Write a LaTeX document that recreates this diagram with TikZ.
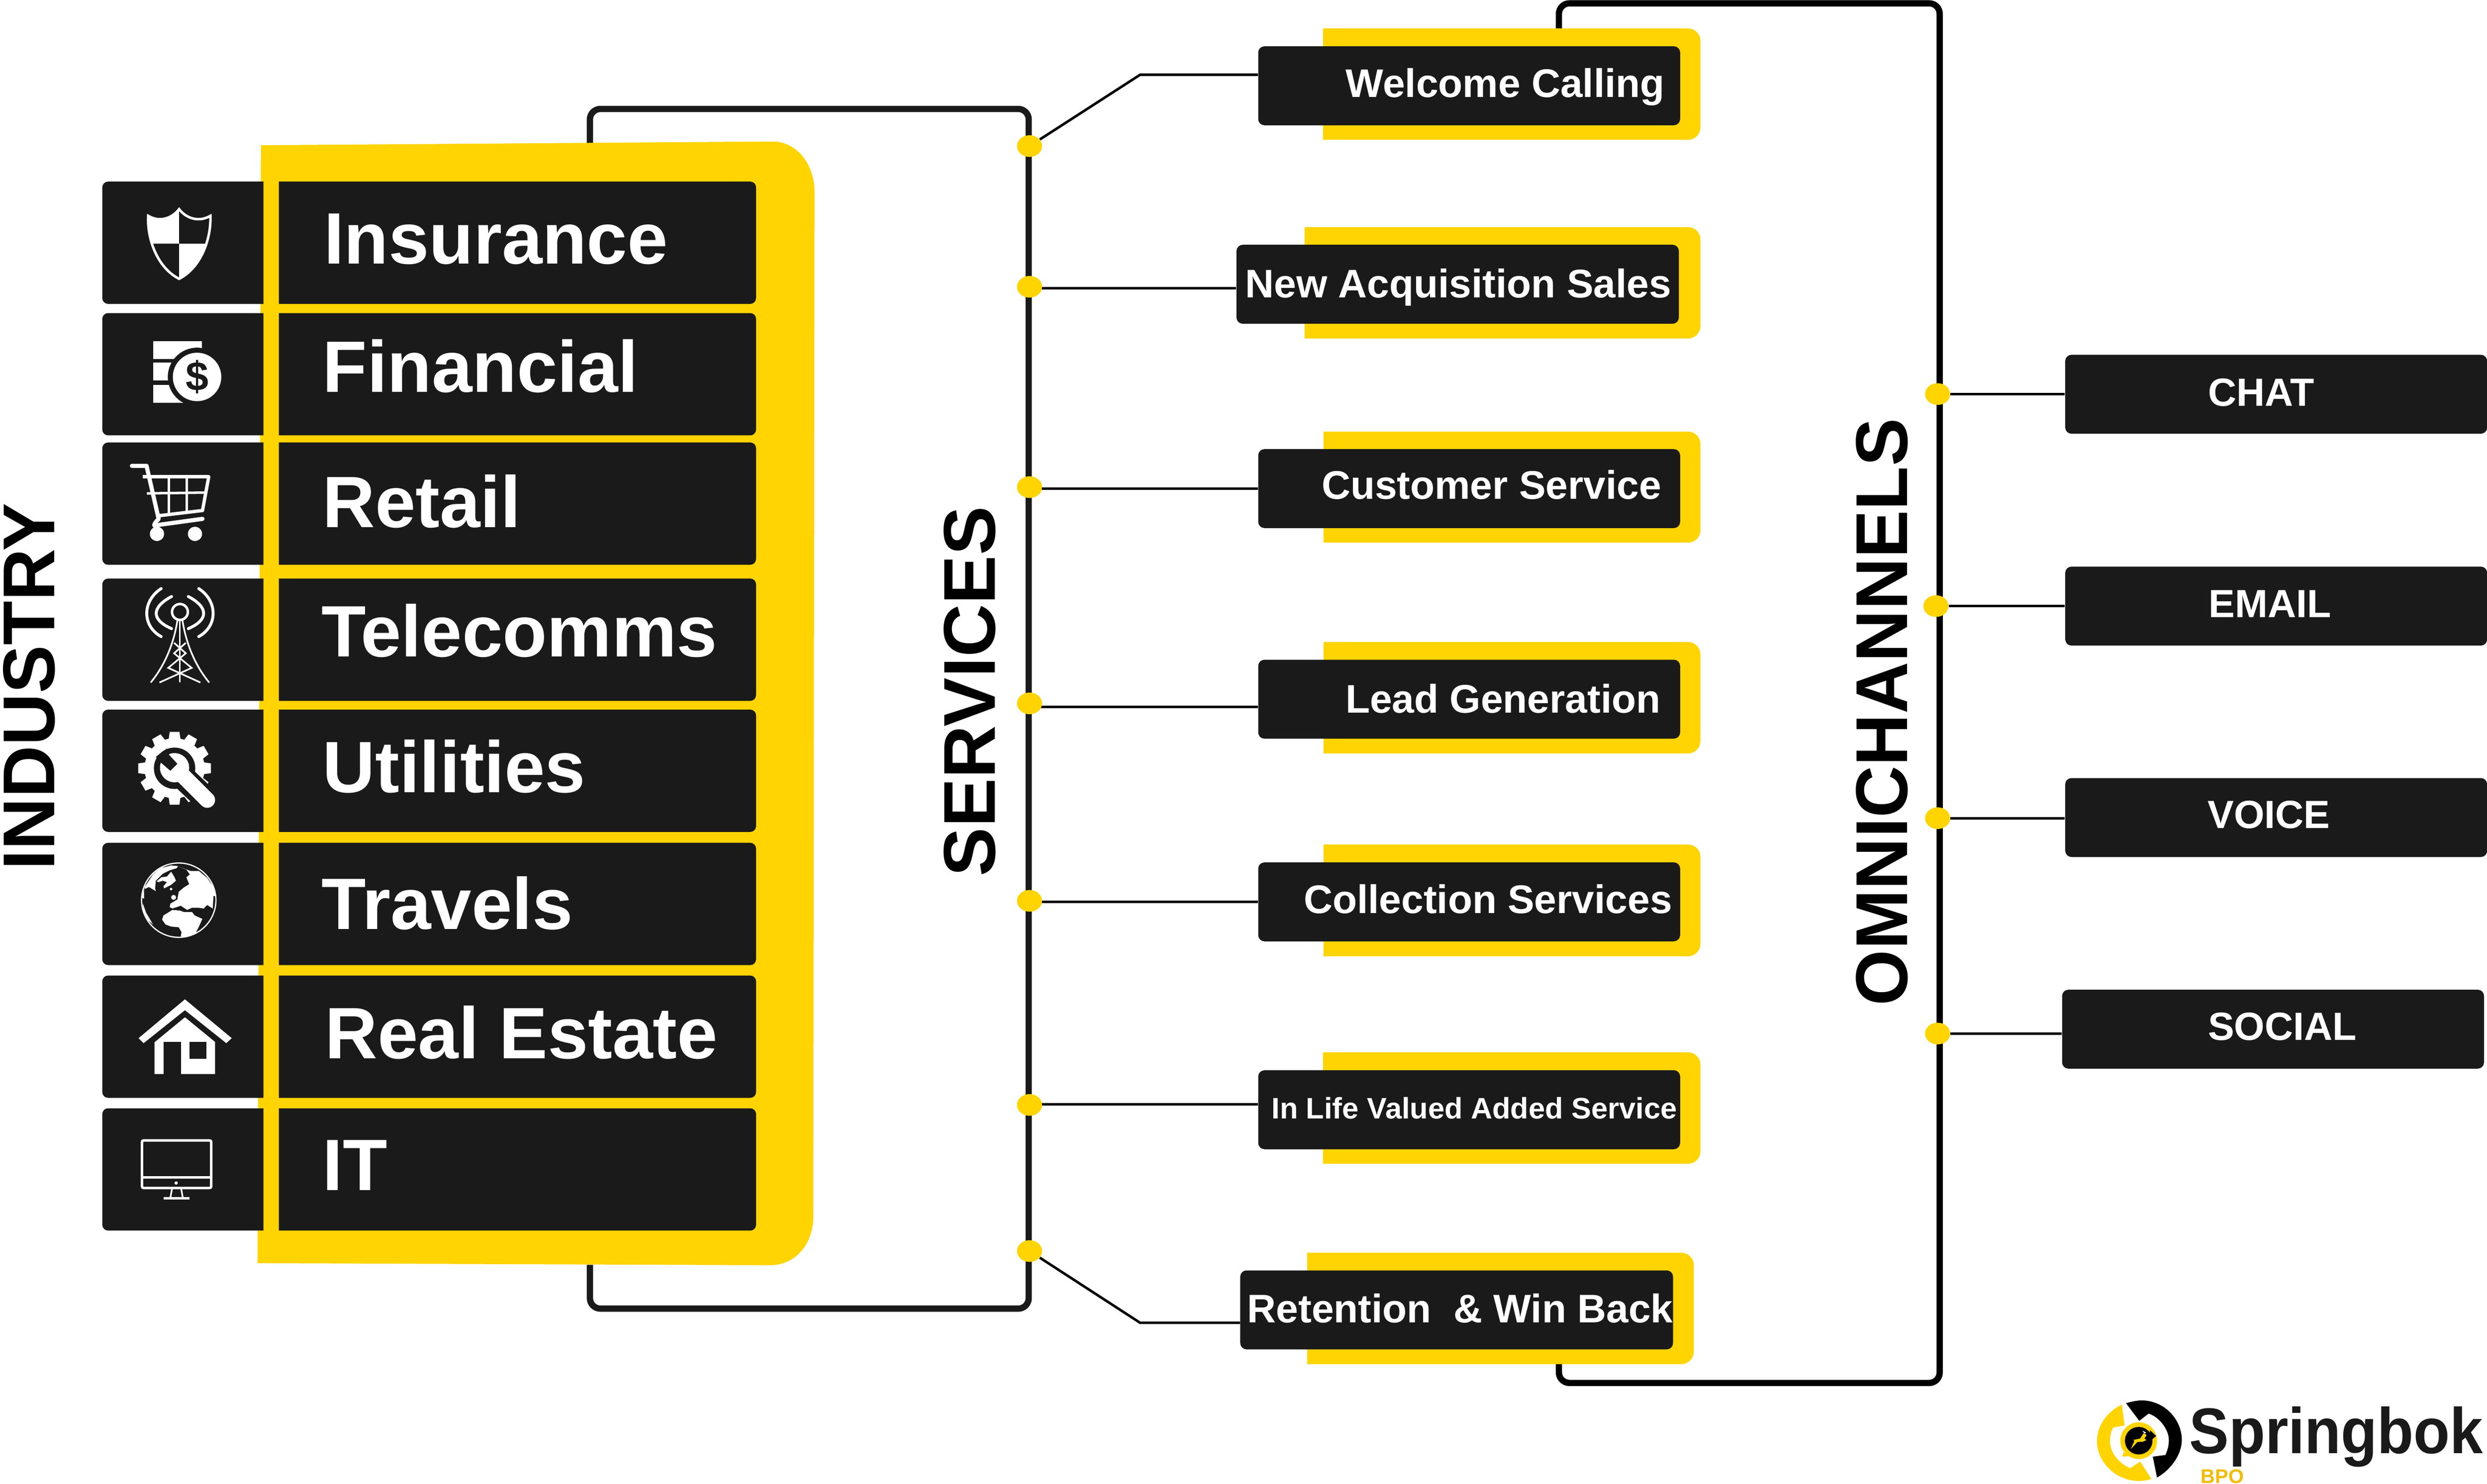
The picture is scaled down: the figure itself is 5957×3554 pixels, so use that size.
\documentclass[tikz,border=0pt]{standalone}
\usepackage{fontspec}
\usepackage{graphicx}
\setmainfont{Liberation Sans}
\usetikzlibrary{calc}
\usetikzlibrary{shapes.geometric}

\definecolor{brandyellow}{HTML}{FFD400}
\definecolor{boxblack}{HTML}{1A1A1A}
\definecolor{bpogold}{HTML}{F2BC00}

\tikzset{
    darkbox/.style={fill=boxblack, rounded corners=.15cm, inner sep=0pt},
    servicebox/.style={darkbox, minimum width=10.10cm, minimum height=1.89cm},
    rowtext/.style={text=white, anchor=base west, inner sep=0pt, font=\bfseries\fontsize{49.6}{51}\selectfont},
    servicetext/.style={text=white, anchor=base west, inner sep=0pt, font=\bfseries\fontsize{27.2}{28}\selectfont},
    channeltext/.style={text=white, anchor=base west, inner sep=0pt, font=\bfseries\fontsize{26.8}{27}\selectfont},
    sidetitle/.style={rotate=90, anchor=base west, inner sep=0pt, font=\bfseries\fontsize{50}{51}\selectfont},
    bracket/.style={line width=.15cm, rounded corners=.25cm},
    wire/.style={black, line width=.06cm},
    joint/.style={ellipse, fill=brandyellow, minimum width=.6cm, minimum height=.52cm, inner sep=0pt},
    iconline/.style={white, line width=.06cm}
}

\newcommand{\iconback}[1]{\fill[boxblack] (631,#1) [rounded corners=.14cm] -- (245,#1) -- (245,{#1+293}) [sharp corners] -- (631,{#1+293}) -- cycle;}
\newcommand{\rowback}[1]{\fill[boxblack] (668,#1) [rounded corners=.14cm] -- (1811,#1) -- (1811,{#1+293}) [sharp corners] -- (668,{#1+293}) -- cycle;}
\newcommand{\yellowtab}[4]{\fill[brandyellow] (#1,#2) [rounded corners=.3cm] -- (#3,#2) -- (#3,#4) [sharp corners] -- (#1,#4) -- cycle;}
\newcommand{\shieldoutline}{(429,501) .. controls (415,520) and (385,535) .. (355,517) .. controls (352,570) and (375,640) .. (429,668) .. controls (483,640) and (506,570) .. (504,517) .. controls (473,535) and (443,520) .. (429,501) -- cycle}

\begin{document}
\begin{tikzpicture}[x=.01cm,y=-.01cm]
    \useasboundingbox (0,0) rectangle (5957,3554);

    % brackets first, the yellow panels sit on them
    \draw[bracket, boxblack] (1413,348) -- (1413,261) -- (2464,261) -- (2464,3135) -- (1413,3135) -- (1413,3030);
    \draw[bracket, black] (3734,68) -- (3734,8) -- (4646,8) -- (4646,3313) -- (3734,3313) -- (3734,3268);

    % industry panel
    \fill[brandyellow] (625,348) -- (1850,339) .. controls (1910,339) and (1951,395) .. (1951,460) -- (1948,2915) .. controls (1948,2980) and (1905,3031) .. (1845,3031) -- (617,3026) -- cycle;

    \iconback{435}
    \iconback{750}
    \iconback{1060}
    \iconback{1386}
    \iconback{1700}
    \iconback{2019}
    \iconback{2337}
    \iconback{2655}

    \rowback{435}
    \rowback{750}
    \rowback{1060}
    \rowback{1386}
    \rowback{1700}
    \rowback{2019}
    \rowback{2337}
    \rowback{2655}

    \node[rowtext] (insurance) at (775,632) {Insurance};
    \node[rowtext] (financial) at (772,940) {Financial};
    \node[rowtext] (retail) at (772,1263) {Retail};
    \node[rowtext] (telecoms) at (770,1573) {Telecomms};
    \node[rowtext] (utilities) at (772,1899) {Utilities};
    \node[rowtext] (travels) at (770,2226) {Travels};
    \node[rowtext] (estate) at (778,2536) {Real Estate};
    \node[rowtext] (it) at (772,2852) {IT};

    % shield
    \begin{scope}
        \clip \shieldoutline;
        \fill[white] (340,490) rectangle (429,584);
        \fill[white] (429,584) rectangle (520,680);
    \end{scope}
    \draw[iconline] \shieldoutline;

    % coins
    \fill[white] (367,817) rectangle (484,860);
    \fill[white] (367,869) rectangle (484,912);
    \fill[white] (367,922) rectangle (484,965);
    \fill[boxblack] (472,903) circle (.70cm);
    \fill[white] (472,903) circle (.58cm);
    \node[text=boxblack, inner sep=0pt, font=\bfseries\fontsize{28}{29}\selectfont] (dollar) at (472,903) {\$};

    % cart
    \draw[iconline, line width=.1cm, line cap=round, line join=round] (316,1116) -- (351,1116) -- (380,1243) .. controls (362,1262) and (370,1262) .. (383,1257) -- (485,1243);
    \draw[iconline, line width=.08cm, line join=round] (342,1142) -- (500,1142) -- (485,1223) -- (376,1236);
    \draw[iconline] (352,1182) -- (494,1180);
    \draw[iconline] (405,1142) -- (405,1232);
    \draw[iconline] (447,1142) -- (447,1228);
    \fill[white] (376,1279) circle (.17cm);
    \fill[white] (467,1279) circle (.17cm);

    % mast
    \draw[iconline] (431,1466) circle (.19cm);
    \draw[iconline, line width=.07cm, line cap=round] (411,1429) .. controls (362,1455) and (362,1485) .. (411,1506);
    \draw[iconline, line width=.07cm, line cap=round] (451,1429) .. controls (500,1455) and (500,1485) .. (451,1506);
    \draw[iconline, line width=.07cm, line cap=round] (386,1410) .. controls (340,1440) and (340,1500) .. (386,1525);
    \draw[iconline, line width=.07cm, line cap=round] (476,1410) .. controls (522,1440) and (522,1500) .. (476,1525);
    \draw[iconline, line width=.04cm] (425,1486) .. controls (415,1550) and (390,1600) .. (361,1635);
    \draw[iconline, line width=.04cm] (437,1486) .. controls (447,1550) and (472,1600) .. (501,1635);
    \draw[iconline, line width=.04cm] (431,1486) -- (431,1635);
    \draw[iconline, line width=.04cm] (417,1540) -- (445,1565) -- (403,1600) -- (480,1635);
    \draw[iconline, line width=.04cm] (445,1540) -- (417,1565) -- (459,1600) -- (382,1635);

    % gear and spanner
    \begin{scope}[shift={(300,1720)},x=.00333cm,y=-.00333cm]
        \fill[white] (355,362) circle (.72cm);
        \foreach \toothangle in {0,30,...,330}
            \fill[white, rotate around={\toothangle:(355,362)}] (320,100) -- (390,100) -- (400,170) -- (310,170) -- cycle;
        \fill[boxblack] (355,362) circle (.495cm);
        \fill[boxblack] (500,385) -- (700,575) -- (575,700) -- (375,510) -- cycle;
        \fill[white] (355,358) circle (.35cm);
        \draw[white, line width=.377cm, line cap=round] (420,420) -- (590,590);
        \fill[boxblack] (255,320) -- (325,380) -- (375,330) -- (315,265) -- (300,220) -- (220,280) -- cycle;
    \end{scope}

    % globe
    \begin{scope}[shift={(300,2030)},x=.00333cm,y=-.00333cm]
        \draw[white, line width=.03cm] (385,380) circle (.89cm);
        \fill[white] (385,138) -- (470,170) -- (530,170) -- (590,220) -- (630,280) -- (650,350) -- (635,350) -- (632,400) -- (630,440) -- (590,415) -- (565,440) -- (530,435) -- (480,435) -- (445,450) -- (400,420) -- (340,440) -- (320,430) -- (325,405) -- (375,375) -- (385,320) -- (420,290) -- (460,265) -- (440,215) -- (465,195) -- (440,160) -- cycle;
        \fill[white] (275,490) -- (340,450) -- (395,455) -- (420,465) -- (480,465) -- (500,490) -- (555,515) -- (535,560) -- (510,610) -- (490,625) -- (430,648) -- (400,640) -- (405,610) -- (385,575) -- (330,570) -- (290,555) -- (265,520) -- cycle;
        \fill[white] (225,245) -- (260,215) -- (300,210) -- (330,175) -- (355,215) -- (365,240) -- (330,270) -- (280,295) -- (275,280) -- (300,250) -- (270,240) -- (240,250) -- cycle;
        \fill[white] (140,285) -- (200,195) -- (250,150) -- (330,130) -- (380,135) -- (370,150) -- (320,165) -- (270,190) -- (220,240) -- (215,295) -- (220,315) -- (170,285) -- (140,300) -- cycle;
        \fill[white] (118,360) -- (135,300) -- (135,370) -- cycle;
        \fill[white] (125,400) -- (150,470) -- (200,555) -- (165,525) -- (130,460) -- cycle;
        \fill[white] (330,300) circle (.03cm);
        \fill[white] (348,360) circle (.06cm);
    \end{scope}

    % house
    \fill[white] (443,2394) -- (555,2487) -- (542,2499) -- (443,2420) -- (344,2499) -- (332,2487) -- cycle;
    \fill[white] (370,2497) -- (443,2437) -- (515,2496) -- (515,2573) -- (370,2573) -- cycle;
    \fill[boxblack] (392,2496) rectangle (434,2575);
    \fill[boxblack] (454,2496) rectangle (495,2537);

    % screen
    \draw[iconline, rounded corners=.04cm] (340,2732) rectangle (506,2846);
    \draw[iconline] (340,2821) -- (506,2821);
    \fill[white] (422,2834) circle (.04cm);
    \draw[iconline, line width=.04cm] (412,2848) -- (408,2870);
    \draw[iconline, line width=.04cm] (434,2848) -- (438,2870);
    \draw[iconline] (392,2871) -- (454,2871);

    % titles
    \node[sidetitle] (industry) at (131,2085) {\scalebox{.985}[1]{INDUSTRY}};
    \node[sidetitle] (services) at (2383,2100) {SERVICES};
    \node[sidetitle] (omnichannels) at (4568,2410) {\scalebox{.98}[1]{OMNICHANNELS}};

    % services column
    \yellowtab{3169}{68}{4073}{335}
    \yellowtab{3125}{544}{4073}{811}
    \yellowtab{3170}{1034}{4073}{1300}
    \yellowtab{3170}{1538}{4073}{1805}
    \yellowtab{3170}{2023}{4073}{2291}
    \yellowtab{3169}{2521}{4073}{2788}
    \yellowtab{3131}{3001}{4057}{3268}

    \node[servicebox] (welcomebox) at (3519,205.5) {};
    \node[servicebox, minimum width=10.59cm] (salesbox) at (3491.5,681) {};
    \node[servicebox] (customerbox) at (3519,1170.5) {};
    \node[servicebox] (leadbox) at (3519,1675) {};
    \node[servicebox] (collectionbox) at (3519,2160.5) {};
    \node[servicebox] (inlifebox) at (3519,2658.5) {};
    \node[servicebox, minimum width=10.36cm] (retentionbox) at (3489,3138) {};

    \node[servicetext] (welcome) at (3223,233) {Welcome Calling};
    \node[servicetext] (sales) at (2982,713) {New Acquisition Sales};
    \node[servicetext] (customer) at (3165,1195) {Customer Service};
    \node[servicetext] (lead) at (3222,1708) {Lead Generation};
    \node[servicetext] (collection) at (3122,2188) {Collection Services};
    \node[servicetext, font=\bfseries\fontsize{20.2}{21}\selectfont] (inlife) at (3045,2680) {In Life Valued Added Service};
    \node[servicetext] (retention) at (2987,3168) {Retention \ \& Win Back};

    \coordinate (elbowtop) at (2731,179);
    \coordinate (elbowbottom) at (2731,3169);
    \coordinate (saleswire) at (2466,690);
    \coordinate (customerwire) at (2466,1171);
    \coordinate (leadwire) at (2466,1693);
    \coordinate (collectionwire) at (2466,2161);
    \coordinate (inlifewire) at (2466,2646);

    \draw[wire] (saleswire) -- (saleswire -| salesbox.west);
    \draw[wire] (customerwire) -- (customerwire -| customerbox.west);
    \draw[wire] (leadwire) -- (leadwire -| leadbox.west);
    \draw[wire] (collectionwire) -- (collectionwire -| collectionbox.west);
    \draw[wire] (inlifewire) -- (inlifewire -| inlifebox.west);

    \node[joint] (sone) at (2466,350) {};
    \node[joint] (stwo) at (2466,687) {};
    \node[joint] (sthree) at (2466,1167) {};
    \node[joint] (sfour) at (2466,1685) {};
    \node[joint] (sfive) at (2466,2158) {};
    \node[joint] (ssix) at (2466,2647) {};
    \node[joint] (sseven) at (2466,2997) {};

    \draw[wire] (sone) -- (elbowtop) -- (elbowtop -| welcomebox.west);
    \draw[wire] (sseven) -- (elbowbottom) -- (elbowbottom -| retentionbox.west);

    % channels column
    \node[servicebox] (chatbox) at (5452,944.5) {};
    \node[servicebox] (emailbox) at (5452,1452) {};
    \node[servicebox] (voicebox) at (5452,1958.5) {};
    \node[servicebox] (socialbox) at (5444.5,2465.5) {};

    \node[channeltext] (chat) at (5288,973) {CHAT};
    \node[channeltext] (email) at (5290,1479) {EMAIL};
    \node[channeltext] (voice) at (5287,1984) {VOICE};
    \node[channeltext] (social) at (5288,2492) {SOCIAL};

    \node[joint] (cone) at (4641,944) {};
    \node[joint] (ctwo) at (4637,1452) {};
    \node[joint] (cthree) at (4641,1960) {};
    \node[joint] (cfour) at (4641,2476) {};

    \draw[wire] (cone.east) -- (cone.east -| chatbox.west);
    \draw[wire] (ctwo.east) -- (ctwo.east -| emailbox.west);
    \draw[wire] (cthree.east) -- (cthree.east -| voicebox.west);
    \draw[wire] (cfour.east) -- (cfour.east -| socialbox.west);

    % logo
    \begin{scope}[shift={(4900,3250)},x=.006743cm,y=-.003333cm]
        \fill[black] (285,335) .. controls (310,320) and (330,315) .. (340,315) .. controls (420,315) and (483,450) .. (483,600) .. controls (483,710) and (440,820) .. (395,870) -- (380,720) -- (425,708) .. controls (433,670) and (437,640) .. (437,600) .. controls (437,520) and (400,430) .. (365,410) -- (332,462) -- cycle;
        \fill[brandyellow] (270,345) .. controls (215,400) and (182,500) .. (182,610) .. controls (182,760) and (250,895) .. (330,895) .. controls (345,895) and (360,890) .. (375,880) -- (335,755) -- (300,803) .. controls (260,770) and (228,690) .. (228,610) .. controls (228,570) and (232,535) .. (240,510) -- (280,495) -- cycle;
        \fill[brandyellow] (330,605) circle (.44cm);
        \fill[brandyellow] (275,690) -- (272,720) -- (300,715) -- cycle;
        \fill[black] (330,605) circle (.33cm);
        \fill[black] (370,530) -- (392,570) -- (370,610) -- cycle;
        \fill[brandyellow] (348,550) -- (358,565) -- (350,590) -- (358,600) -- (345,612) -- (325,615) -- (302,665) -- (315,605) -- (310,600) -- (335,590) -- cycle;
        \fill[white] (343,532) -- (358,548) -- (350,552) -- cycle;
    \end{scope}
    \node[anchor=base west, inner sep=0pt, text=boxblack, font=\bfseries\fontsize{44}{45}\selectfont] (springbok) at (5243,3482) {\scalebox{.92}[1]{Springbok}};
    \node[anchor=base west, inner sep=0pt, text=bpogold, font=\bfseries\fontsize{13.5}{14}\selectfont] (bpo) at (5271,3553) {BPO};
\end{tikzpicture}
\end{document}
